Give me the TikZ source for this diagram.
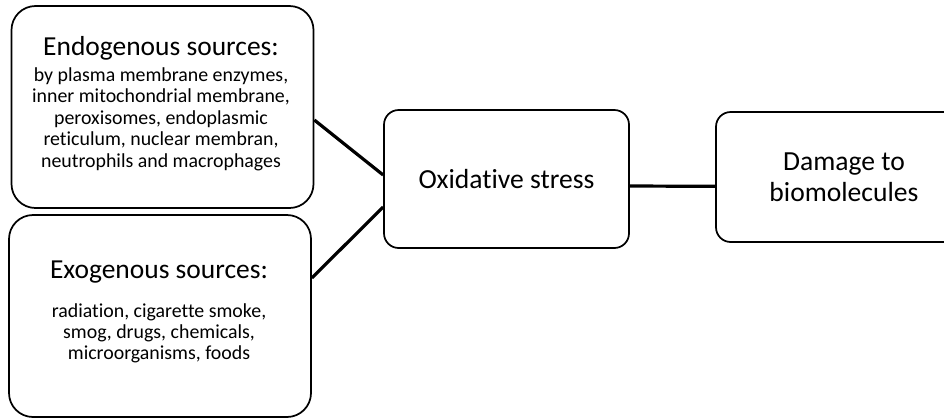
\documentclass[tikz,border=0pt]{standalone}
\usepackage{fontspec}
\setmainfont{Carlito}[Ligatures={NoCommon}]
\begin{document}
\begin{tikzpicture}[x=0.75pt,y=-0.75pt,
  box/.style={draw=black,line width=1.3pt,fill=white,align=center,inner sep=0pt},
  conn/.style={draw=black,line width=2.4pt},
  ttl/.style={font=\fontsize{20.6}{24}\selectfont},
  small/.style={font=\fontsize{14.9}{16.1}\selectfont}]
\useasboundingbox (0,0) rectangle (944,419);
\node[box,rounded corners=18pt,minimum width=226.5pt,minimum height=151.5pt] (endo) at (162.5,107) {};
\node[box,rounded corners=18pt,minimum width=226.5pt,minimum height=151.5pt] (exo) at (160,316) {};
\node[box,rounded corners=11pt,minimum width=183.75pt,minimum height=103.5pt,font=\fontsize{20.7}{24}\selectfont] (oxi) at (506.5,179) {Oxidative stress};
\node[box,rounded corners=11pt,minimum width=192pt,minimum height=97.5pt,font=\fontsize{20.7}{23.5}\selectfont] (dmg) at (844,177) {Damage to\\biomolecules};
\node[ttl] (endot) at (161,48) {Endogenous sources:};
\node[small,align=center,anchor=north] (endob) at (161,63) {by plasma membrane enzymes,\\inner mitochondrial membrane,\\peroxisomes, endoplasmic\\reticulum, nuclear membran,\\neutrophils and macrophages};
\node[ttl] (exot) at (159,272) {Exogenous sources:};
\node[small,align=center,anchor=north] (exob) at (159,298.5) {radiation, cigarette smoke,\\smog, drugs, chemicals,\\microorganisms, foods};
\draw[conn] ([yshift=-9.75pt]endo.east) -- ([yshift=3pt]oxi.west);
\draw[conn] ([yshift=28.5pt]exo.east) -- ([yshift=-21pt]oxi.west);
\draw[conn] ([yshift=-5.25pt]oxi.east) -- ([yshift=-7pt]dmg.west);
\end{tikzpicture}
\end{document}
